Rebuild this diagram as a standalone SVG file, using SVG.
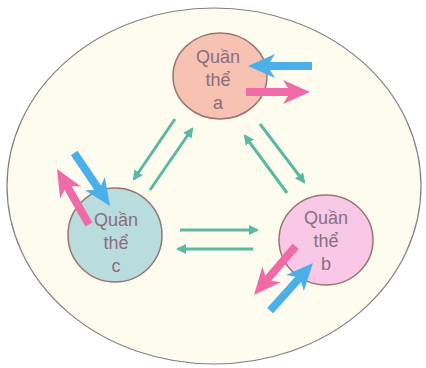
<svg xmlns="http://www.w3.org/2000/svg" width="426" height="368" viewBox="0 0 426 368">
<defs>
<style>
.pop{stroke:#9a7474;stroke-width:1.5}
.lbl{font-family:"Liberation Sans",Arial,sans-serif;font-size:18px;fill:#8a6e7e;text-anchor:middle}
.mig{stroke:#5cb8a0;stroke-width:3;fill:none;marker-end:url(#ah)}
.blue{fill:#4bb0ea}
.pink{fill:#f06aa8}
</style>
<marker id="ah" viewBox="0 0 10 10" refX="8" refY="5" markerWidth="3.4" markerHeight="3.4" orient="auto" markerUnits="strokeWidth">
<path d="M0,0 L10,5 L0,10 Z" fill="#5cb8a0"/>
</marker>
<path id="big" d="M0,0 L-27,-12 L-22,-4 L-64,-4 L-64,4 L-22,4 L-27,12 Z"/>
</defs>
<rect width="426" height="368" fill="#ffffff"/>
<ellipse id="habitat" cx="214" cy="186" rx="207" ry="178" fill="#fefcee" stroke="#808080" stroke-width="1.2"/>
<g id="node-a">
<ellipse class="pop" cx="220" cy="76" rx="47" ry="43" fill="#f7c2b2"/>
<text class="lbl" x="218" y="63">Quần</text>
<text class="lbl" x="218" y="86">thể</text>
<text class="lbl" x="218" y="109">a</text>
</g>
<g id="node-c">
<circle class="pop" cx="115" cy="235" r="47" fill="#b9dcdc"/>
<text class="lbl" x="116" y="226">Quần</text>
<text class="lbl" x="116" y="249">thể</text>
<text class="lbl" x="116" y="272">c</text>
</g>
<g id="node-b">
<ellipse class="pop" cx="326" cy="240" rx="47" ry="45" fill="#f8c8e6"/>
<text class="lbl" x="326" y="224">Quần</text>
<text class="lbl" x="326" y="247">thể</text>
<text class="lbl" x="326" y="270">b</text>
</g>
<g id="connectors">
<line class="mig" x1="175" y1="119" x2="134" y2="179"/>
<line class="mig" x1="150" y1="190" x2="192" y2="129"/>
<line class="mig" x1="260" y1="124" x2="304" y2="182"/>
<line class="mig" x1="287" y1="193" x2="245" y2="136"/>
<line class="mig" x1="180" y1="230" x2="257" y2="230"/>
<line class="mig" x1="253" y1="249" x2="178" y2="249"/>
</g>
<g id="flows">
<use href="#big" class="blue" transform="translate(248,66) rotate(180)"/>
<use href="#big" class="pink" transform="translate(310,92)"/>
<use href="#big" class="blue" transform="translate(110,206) rotate(56)"/>
<use href="#big" class="pink" transform="translate(57,169) rotate(240)"/>
<use href="#big" class="pink" transform="translate(254,295) rotate(130.5)"/>
<use href="#big" class="blue" transform="translate(313,263) rotate(-48)"/>
</g>
</svg>
